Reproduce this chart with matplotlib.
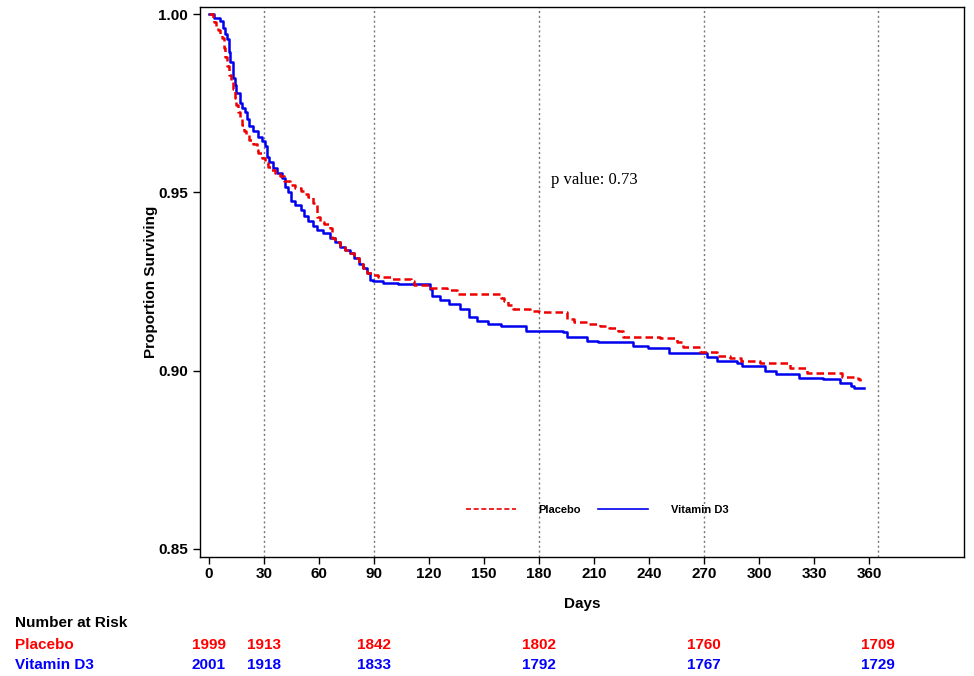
import matplotlib
matplotlib.use("Agg")
import matplotlib.pyplot as plt
from matplotlib.transforms import blended_transform_factory

# ---- data ----
placebo_days = [0, 2, 3, 4, 5, 6, 7, 8, 9, 10, 11, 12, 13, 14, 15, 16, 17, 18, 19, 20,
                22, 24, 26, 27, 29, 30.5, 32, 34, 36, 39, 41, 44, 47, 50, 52, 54, 57, 59,
                60.5, 63, 66, 67, 69, 71.5, 74, 77, 79, 82, 84, 86, 89, 92, 100, 110, 112,
                120, 130, 135, 159, 161, 163, 166, 175, 180, 195, 199, 206, 213, 218, 223,
                226, 246, 255, 258.5, 268, 277, 284, 290, 300.5, 317, 326, 345, 354, 355]
placebo_surv = [1.000, 0.9990, 0.9978, 0.9966, 0.9955, 0.9944, 0.9933, 0.9905, 0.9880,
                0.9855, 0.9830, 0.9810, 0.9790, 0.9764, 0.9745, 0.9725, 0.9705, 0.9688,
                0.9672, 0.9660, 0.9648, 0.9635, 0.9618, 0.9610, 0.9595, 0.9582, 0.9572,
                0.9563, 0.9555, 0.9545, 0.9533, 0.9520, 0.9512, 0.9503, 0.9495, 0.9486,
                0.9470, 0.9432, 0.9416, 0.9410, 0.9400, 0.9373, 0.9362, 0.9346, 0.9338,
                0.9329, 0.9315, 0.9300, 0.9288, 0.9275, 0.9268, 0.9262, 0.9256, 0.9250,
                0.9240, 0.9233, 0.9225, 0.9216, 0.9205, 0.9195, 0.9185, 0.9174, 0.9168,
                0.9163, 0.9146, 0.9135, 0.9132, 0.9126, 0.9119, 0.9112, 0.9093, 0.9090,
                0.9079, 0.9065, 0.9053, 0.9042, 0.9035, 0.9028, 0.9020, 0.9008, 0.8994,
                0.8982, 0.8975, 0.8970]

vitd_days = [0, 3, 6, 7.5, 9, 10, 11, 11.5, 13, 14, 15, 17, 18, 19.6, 21, 22, 24, 27, 29,
             30.5, 31.6, 33, 35, 37, 40, 41.5, 43, 45, 47, 50, 52, 54, 57, 59, 62, 66, 69,
             71.5, 74, 77, 79, 82, 84, 86, 88, 89.5, 95, 103, 120.5, 121.6, 126, 131, 137,
             142, 146, 152, 159, 173, 193, 195, 206, 212, 231, 239.5, 251, 254, 271.6,
             277, 288, 290.7, 303, 309, 322, 335, 344, 350, 352, 357]
vitd_surv = [1.000, 0.9990, 0.9980, 0.9960, 0.9945, 0.9930, 0.9895, 0.9865, 0.9820,
             0.9800, 0.9780, 0.9750, 0.9738, 0.9725, 0.9705, 0.9685, 0.9672, 0.9654,
             0.9645, 0.9630, 0.9600, 0.9585, 0.9567, 0.9555, 0.9540, 0.9514, 0.9500,
             0.9477, 0.9465, 0.9450, 0.9435, 0.9420, 0.9405, 0.9393, 0.9385, 0.9373,
             0.9360, 0.9346, 0.9338, 0.9329, 0.9315, 0.9300, 0.9288, 0.9275, 0.9255,
             0.9250, 0.9247, 0.9244, 0.9230, 0.9210, 0.9197, 0.9188, 0.9174, 0.9149,
             0.9140, 0.9132, 0.9124, 0.9112, 0.9107, 0.9093, 0.9084, 0.9079, 0.9070,
             0.9062, 0.9050, 0.9048, 0.9039, 0.9028, 0.9022, 0.9014, 0.9000, 0.8990,
             0.8980, 0.8977, 0.8966, 0.8958, 0.8952, 0.8952]

ref_days = [30, 90, 180, 270, 365]
x_ticks = [0, 30, 60, 90, 120, 150, 180, 210, 240, 270, 300, 330, 360]
y_ticks = [0.85, 0.90, 0.95, 1.00]
y_tick_labels = ["0.85", "0.90", "0.95", "1.00"]

risk_days = [0, 30, 90, 180, 270, 365]
risk_placebo = [1999, 1913, 1842, 1802, 1760, 1709]
risk_vitd = [2001, 1918, 1833, 1792, 1767, 1729]

p_value_text = "p value: 0.73"

# ---- plot ----
plt.rcParams['font.family'] = ['Liberation Sans', 'DejaVu Sans']
fig = plt.figure(figsize=(9.74, 6.76), dpi=100)
ax = fig.add_axes([200/974, 1 - 557/676, 764/974, 550/676])

for d in ref_days:
    ax.axvline(d, color='#777777', linestyle=(0, (1.5, 2.0)), linewidth=1.0, zorder=1)

ax.step(placebo_days, placebo_surv, where='post', color='#ee0000', linewidth=1.8,
        linestyle=(0, (3, 1.6)), label='Placebo', zorder=3)
ax.step(vitd_days, vitd_surv, where='post', color='#0000ee', linewidth=1.8,
        label='Vitamin D3', zorder=2)

ax.set_xlim(-4.9, 411.8)
ax.set_ylim(0.8477, 1.002)
ax.set_xticks(x_ticks)
ax.set_xticklabels([str(t) for t in x_ticks], fontweight='bold', fontsize=11)
ax.set_yticks(y_ticks)
ax.set_yticklabels(y_tick_labels, fontweight='bold', fontsize=11)
ax.tick_params(axis='both', direction='out', length=5, width=1, colors='black')
ax.tick_params(axis='x', pad=2)
for s in ax.spines.values():
    s.set_linewidth(1.0)
    s.set_color('black')

ax.set_xlabel('Days', fontweight='bold', fontsize=11, labelpad=12)
ax.set_ylabel('Proportion Surviving', fontweight='bold', fontsize=11, labelpad=0)

ax.text(210, 0.9534, p_value_text, family=['Liberation Serif', 'DejaVu Serif'],
        fontsize=12, ha='center', va='center')

leg = fig.legend(loc='center', bbox_to_anchor=(597/974, 1 - 510/676), ncol=2,
                 frameon=False, handlelength=4.5, handletextpad=2.0, columnspacing=1.6,
                 prop={'weight': 'bold', 'size': 8})
for line in leg.get_lines():
    line.set_linewidth(1.2)

# Number at risk table
fig.text(15/974, 1 - 623/676, 'Number at Risk', fontweight='bold', fontsize=11,
         ha='left', va='center')
fig.text(15/974, 1 - 645/676, 'Placebo', color='#ff0000', fontsize=11,
         fontweight='bold', ha='left', va='center')
fig.text(15/974, 1 - 665/676, 'Vitamin D3', color='#0000ff', fontsize=11,
         fontweight='bold', ha='left', va='center')
trans = blended_transform_factory(ax.transData, fig.transFigure)
for d, a, b in zip(risk_days, risk_placebo, risk_vitd):
    fig.text(d, 1 - 645/676, str(a), color='#ff0000', fontsize=11, fontweight='bold',
             ha='center', va='center', transform=trans)
    fig.text(d, 1 - 665/676, str(b), color='#0000ff', fontsize=11, fontweight='bold',
             ha='center', va='center', transform=trans)

fig.savefig('out.png', dpi=100)
